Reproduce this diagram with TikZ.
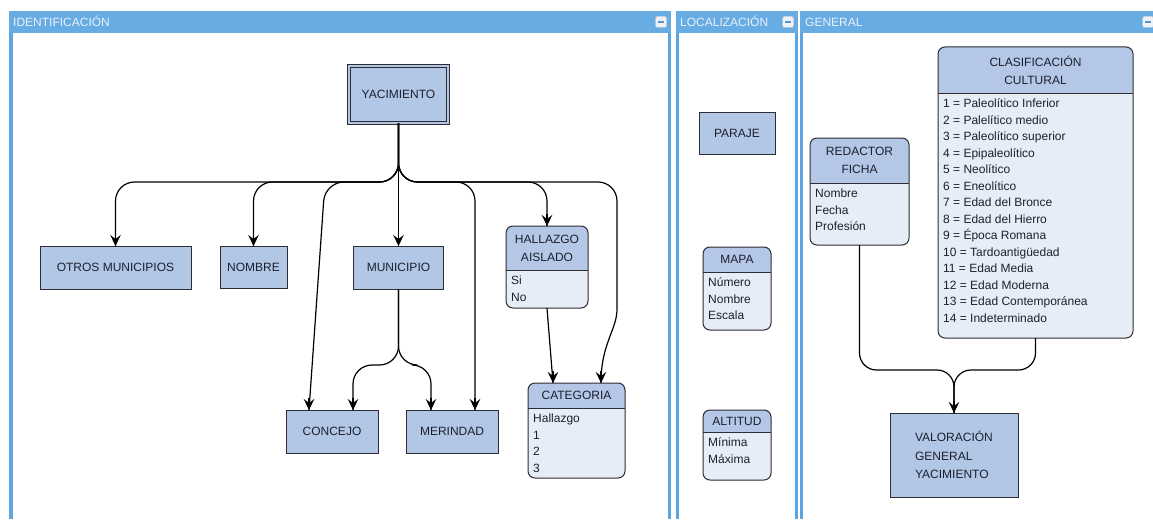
\documentclass[tikz,border=0pt]{standalone}
\usepackage{fontspec}
\setmainfont{Liberation Sans}
\usetikzlibrary{arrows.meta,calc}

\definecolor{panelblue}{RGB}{93,166,226}
\definecolor{headblue}{RGB}{104,172,228}
\definecolor{headtxt}{RGB}{232,241,250}
\definecolor{boxfill}{RGB}{178,198,229}
\definecolor{listhead}{RGB}{180,199,230}
\definecolor{listbody}{RGB}{231,237,247}
\definecolor{edge}{RGB}{45,45,50}
\definecolor{ink}{RGB}{28,32,48}
\definecolor{iconfill}{RGB}{238,242,246}
\definecolor{iconbar}{RGB}{88,150,208}

\tikzset{
  box/.style={draw=edge, line width=1pt, fill=boxfill, text=ink, inner sep=0pt, outer sep=0pt,
    font=\fontsize{12}{14}\selectfont},
  wire/.style={draw=black, line width=1.2pt, rounded corners=19pt},
  tipend/.style={draw=black, line width=1.2pt, -{Stealth[length=11pt,width=10.5pt,inset=4pt]}},
  paneltitle/.style={text=headtxt, anchor=base west, inner sep=0pt, font=\fontsize{12}{14}\selectfont},
  hdtext/.style={text=ink, align=center, inner sep=0pt, font=\fontsize{12}{18}\selectfont},
  bdtext/.style={text=ink, align=left, inner sep=0pt, anchor=north west, font=\fontsize{12}{16.5}\selectfont},
  entshape/.style={fill=listbody, draw=none, inner sep=0pt, outer sep=0pt, rounded corners=7pt},
  entline/.style={draw=edge, line width=1pt},
  minusicon/.style={fill=iconfill, draw=white!80!black, line width=0.4pt, rounded corners=1.5pt,
    minimum size=11pt, inner sep=0pt}
}

% entity box: name, left x, top y, width, header height, total height, header text, field list
\newcommand{\entbox}[8]{%
  \node[entshape, minimum width=#4pt, minimum height=#6pt, anchor=north west] (#1) at (#2,#3) {};
  \fill[listhead, rounded corners=7pt] (#1.north west) rectangle ($(#1.north east)+(0,#5)$);
  \fill[listhead] ($(#1.north west)+(0,#5/2)$) rectangle ($(#1.north east)+(0,#5)$);
  \draw[entline] ($(#1.north west)+(0,#5)$) -- ($(#1.north east)+(0,#5)$);
  \draw[entline, rounded corners=7pt] (#1.north west) rectangle (#1.south east);
  \node[hdtext] (#1-head) at ($(#1.north)+(0,#5/2)$) {#7};
  \node[bdtext] (#1-body) at ($(#1.north west)+(5,#5+3)$) {\strut#8};
}
% arrowhead landing straight down onto a named point
\newcommand{\tipat}[1]{\draw[tipend] ([yshift=12pt]#1) -- (#1);}

\begin{document}
\begin{tikzpicture}[x=1pt,y=-1pt]
\useasboundingbox (0,0) rectangle (1153,519);
\fill[white] (0,0) rectangle (1153,519);

% panel title bars
\fill[headblue] (9,11) rectangle (671,33);
\fill[headblue] (676,11) rectangle (798,33);
\fill[headblue] (800,11) rectangle (1160,33);
% panel side rails
\fill[panelblue] (9,33) rectangle (12.5,519);
\fill[panelblue] (668,33) rectangle (671,519);
\fill[panelblue] (676,33) rectangle (679,519);
\fill[panelblue] (795,33) rectangle (798,519);
\fill[panelblue] (800,33) rectangle (803,519);

\node[paneltitle] (t-ident) at (13,26.3) {IDENTIFICACIÓN};
\node[paneltitle] (t-local) at (680,26.3) {LOCALIZACIÓN};
\node[paneltitle] (t-gen) at (805,26.3) {GENERAL};

% collapse buttons
\node[minusicon] (m1) at (661,22) {};
\node[minusicon] (m2) at (788,22) {};
\node[minusicon] (m3) at (1148,22) {};
\foreach \m in {m1,m2,m3}
  {\draw[iconbar, line width=1.8pt] ([xshift=-3pt]\m.center) -- ([xshift=3pt]\m.center);}

% ---- IDENTIFICACIÓN ----
\node[box, double=boxfill, double distance=2pt, line width=0.9pt,
      minimum width=99pt, minimum height=57pt] (yac) at (398.5,94.5) {YACIMIENTO};
\node[box, minimum width=151pt, minimum height=43pt] (otros) at (115.5,267.5) {OTROS MUNICIPIOS};
\node[box, minimum width=67pt, minimum height=42pt] (nombre) at (253.5,267) {NOMBRE};
\node[box, minimum width=90pt, minimum height=43pt] (mun) at (398.5,267.5) {MUNICIPIO};
\node[box, minimum width=92pt, minimum height=43pt] (conc) at (332,431.5) {CONCEJO};
\node[box, minimum width=92pt, minimum height=43pt] (meri) at (452,431.5) {MERINDAD};
\entbox{hall}{506}{226}{82}{44}{82}{HALLAZGO\\AISLADO}{Si\\No}
\entbox{cat}{528}{383}{97}{25}{95}{CATEGORIA}{Hallazgo\\1\\2\\3}

% junctions and landing points of the connectors
\coordinate (fork) at (398.5,182);
\coordinate (cbend) at (325,182);
\coordinate (kbend1) at (617,182);
\coordinate (kbend2) at (617,290);
\coordinate (mfork) at (398.5,365);
\coordinate (conc-a) at ([xshift=-23pt]conc.north);
\coordinate (conc-b) at ([xshift=21pt]conc.north);
\coordinate (meri-a) at ([xshift=-21pt]meri.north);
\coordinate (meri-b) at ([xshift=23pt]meri.north);
\coordinate (cat-a) at ([xshift=-23.5pt]cat.north);
\coordinate (cat-b) at ([xshift=24.5pt]cat.north);

\draw[wire] (yac.south) -- (fork) -| (otros.north);
\draw[wire] (yac.south) -- (fork) -| (nombre.north);
\draw[wire] (yac.south) -- (mun.north);
\draw[wire] (yac.south) -- (fork) -- (cbend) -- (conc-a);
\draw[wire] (yac.south) -- (fork) -| (meri-b);
\draw[wire] (yac.south) -- (fork) -| (hall.north);
\draw[wire] (yac.south) -- (fork) -- (kbend1) -- (kbend2)
  .. controls +(0,40) and +(0,-40) .. (cat-b);
\draw[wire] (mun.south) -- (mfork) -| (conc-b);
\draw[wire] (mun.south) -- (mfork) -| (meri-a);
\draw[wire] (hall.south) -- (cat-a);

\foreach \p in {otros.north,nombre.north,mun.north,hall.north,conc-a,conc-b,meri-a,meri-b,cat-a,cat-b}
  {\tipat{\p}}

% ---- LOCALIZACIÓN ----
\node[box, minimum width=76pt, minimum height=42pt] (paraje) at (737,133) {PARAJE};
\entbox{mapa}{703}{247}{68}{25}{83}{MAPA}{Número\\Nombre\\Escala}
\entbox{alt}{703}{410}{68}{22}{70}{ALTITUD}{Mínima\\Máxima}

% ---- GENERAL ----
\entbox{red}{810}{138}{99}{45}{107}{REDACTOR\\FICHA}{Nombre\\Fecha\\Profesión}
\entbox{clas}{938}{47}{195}{46}{291}{CLASIFICACIÓN\\CULTURAL}{1 = Paleolítico Inferior\\2 = Palelítico medio\\3 = Paleolítico superior\\4 = Epipaleolítico\\5 = Neolítico\\6 = Eneolítico\\7 = Edad del Bronce\\8 = Edad del Hierro\\9 = Época Romana\\10 = Tardoantigüedad\\11 = Edad Media\\12 = Edad Moderna\\13 = Edad Contemporánea\\14 = Indeterminado}
\node[box, minimum width=128pt, minimum height=84pt, align=left,
      font=\fontsize{12}{18.5}\selectfont] (val) at (954,455) {VALORACIÓN\\GENERAL\\YACIMIENTO};

\coordinate (vfork) at (954,370);
\draw[wire, rounded corners=17pt] (red.south) |- (vfork) -- (val.north);
\draw[wire, rounded corners=17pt] (clas.south) |- (vfork) -- (val.north);
\tipat{val.north}
\end{tikzpicture}
\end{document}
